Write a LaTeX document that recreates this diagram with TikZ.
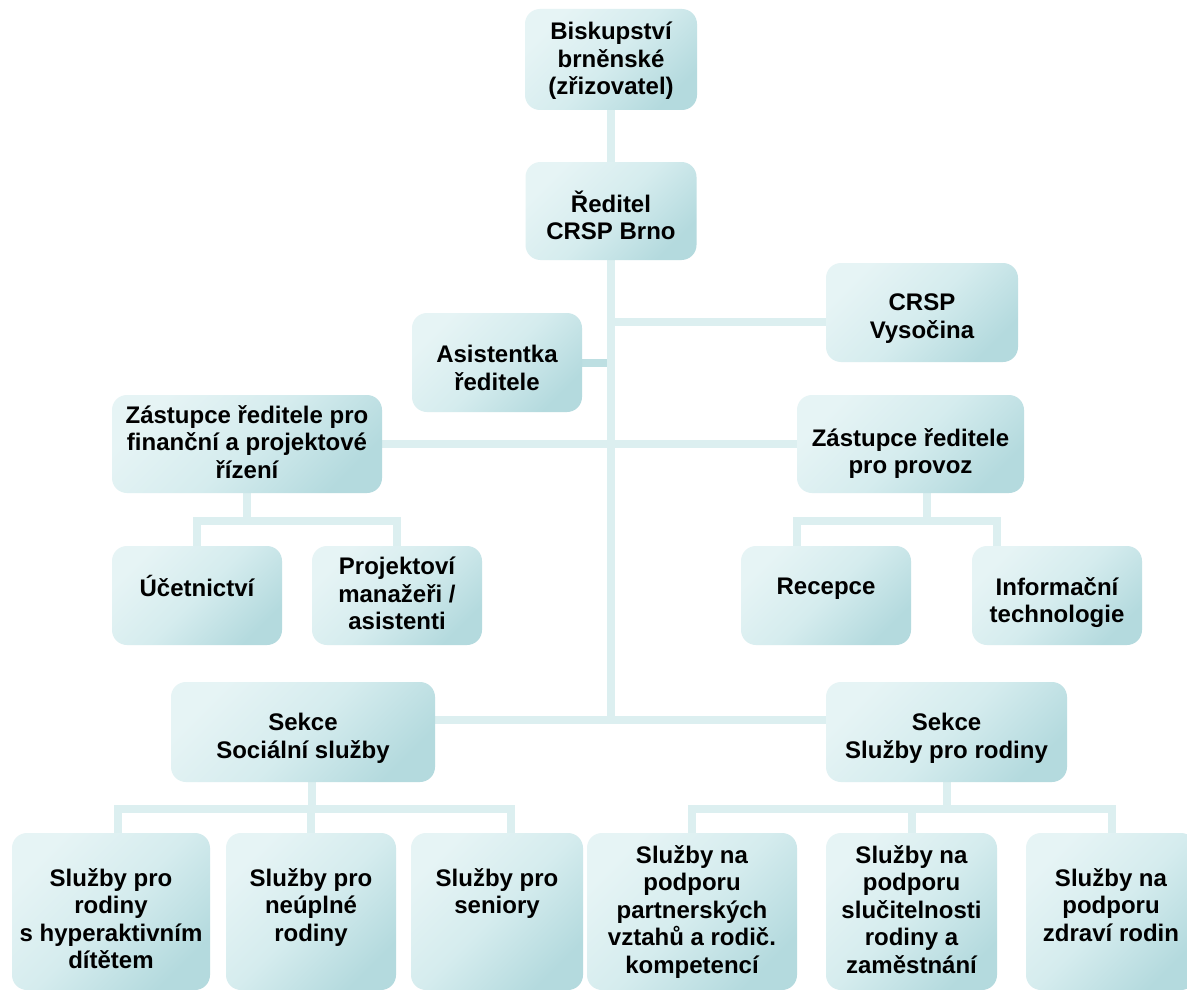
\documentclass[tikz,border=0pt]{standalone}
\usepackage{fontspec}
\setmainfont{Liberation Sans}
\usetikzlibrary{backgrounds}
\definecolor{boxA}{HTML}{E6F4F5}
\definecolor{boxB}{HTML}{D5ECEE}
\definecolor{boxC}{HTML}{B4DADE}
\definecolor{lineC}{HTML}{DCEFF0}
\definecolor{stubC}{HTML}{BDDFE2}
\tikzset{
  box/.style={rectangle, rounded corners=15pt, inner sep=0pt, draw=none,
    top color=boxA, bottom color=boxC, middle color=boxB, shading angle=45},
  txt/.style={inner sep=0pt, align=center, anchor=north, text=black,
    font=\bfseries\fontsize{24}{27.5}\selectfont},
  conn/.style={draw=lineC, line width=8pt, line join=miter},
  stub/.style={draw=stubC, line width=8pt}
}
\begin{document}
\begin{tikzpicture}[x=1pt,y=-1pt]
\useasboundingbox (0,0) rectangle (1187,990);
% boxes
\node[box, minimum width=172, minimum height=101] (b1) at (611,59.5) {};
\node[box, minimum width=171, minimum height=98]  (b2) at (611,211) {};
\node[box, minimum width=192, minimum height=99]  (b3) at (922,312.5) {};
\node[box, minimum width=170, minimum height=99]  (b4) at (497,362.5) {};
\node[box, minimum width=270, minimum height=98]  (b5) at (247,444) {};
\node[box, minimum width=227, minimum height=98]  (b6) at (910.5,444) {};
\node[box, minimum width=170, minimum height=99]  (b7) at (197,595.5) {};
\node[box, minimum width=170, minimum height=99]  (b8) at (397,595.5) {};
\node[box, minimum width=170, minimum height=99]  (b9) at (826,595.5) {};
\node[box, minimum width=170, minimum height=99]  (b10) at (1057,595.5) {};
\node[box, minimum width=264, minimum height=100] (b11) at (303,732) {};
\node[box, minimum width=241, minimum height=100] (b12) at (946.5,732) {};
\node[box, minimum width=198, minimum height=157] (c1) at (111,911.5) {};
\node[box, minimum width=170, minimum height=157] (c2) at (311,911.5) {};
\node[box, minimum width=172, minimum height=157] (c3) at (497,911.5) {};
\node[box, minimum width=210, minimum height=157] (c4) at (692,911.5) {};
\node[box, minimum width=171, minimum height=157] (c5) at (911.5,911.5) {};
\node[box, minimum width=170, minimum height=157] (c6) at (1111,911.5) {};
% texts
\node[txt] (t1) at (611,22) {Biskupství\\brněnské\\(zřizovatel)};
\node[txt] (t2) at (611,190.5) {Ředitel\\CRSP Brno};
\node[txt] (t3) at (922,294) {CRSP\\Vysočina};
\node[txt] (t4) at (497,345) {Asistentka\\ředitele};
\node[txt] (t5) at (247,405) {Zástupce ředitele pro\\finanční a projektové\\řízení};
\node[txt] (t6) at (910.5,428) {Zástupce ředitele\\pro provoz};
\node[txt] (t7) at (197,575.5) {Účetnictví};
\node[txt] (t8) at (397,557) {Projektoví\\manažeři /\\asistenti};
\node[txt] (t9) at (826,578) {Recepce};
\node[txt] (t10) at (1057,577) {Informační\\technologie};
\node[txt] (t11) at (303,713) {Sekce\\Sociální služby};
\node[txt] (t12) at (946.5,713) {Sekce\\Služby pro rodiny};
\node[txt] (u1) at (111,868) {Služby pro\\rodiny\\s hyperaktivním\\dítětem};
\node[txt] (u2) at (311,868) {Služby pro\\neúplné\\rodiny};
\node[txt] (u3) at (497,868) {Služby pro\\seniory};
\node[txt] (u4) at (692,845) {Služby na\\podporu\\partnerských\\vztahů a rodič.\\kompetencí};
\node[txt] (u5) at (911.5,845) {Služby na\\podporu\\slučitelnosti\\rodiny a\\zaměstnání};
\node[txt] (u6) at (1111,868) {Služby na\\podporu\\zdraví rodin};
% junction coordinates
\coordinate (tk) at (611,720);
\coordinate (j1) at (611,322);
\coordinate (j2) at (607,362.5);
\coordinate (h1) at (247,521);
\coordinate (h2) at (927,521);
\coordinate (d9) at (797,521);
\coordinate (d10) at (997,521);
\coordinate (h3) at (312,809);
\coordinate (e1) at (118,809);
\coordinate (e3) at (511,809);
\coordinate (h4) at (947,809);
\coordinate (e4) at (692,809);
\coordinate (e6) at (1112,809);
\begin{pgfonlayer}{background}
\fill[white] (0,0) rectangle (1187,990);
\draw[conn] (b1.south) -- (b2.north);
\draw[conn] (b2.south) -- (tk);
\draw[conn] (j1) -- (j1 -| b3.west);
\draw[stub] (b4.east) -- (j2);
\draw[conn] (b5.east) -- (b6.west);
\draw[conn] (tk -| b11.east) -- (tk -| b12.west);
\draw[conn] (b5.south) -- (h1);
\draw[conn] (b7.north) |- (b8.north |- h1) -- (b8.north);
\draw[conn] (b6.south -| h2) -- (h2);
\draw[conn] (d9 |- b9.north) -- (d9) -- (d10) -- (d10 |- b10.north);
\draw[conn] (b11.south -| h3) -- (h3);
\draw[conn] (e1 |- c1.north) -- (e1) -- (e3) -- (e3 |- c3.north);
\draw[conn] (c2.north) -- (c2.north |- e1);
\draw[conn] (b12.south -| h4) -- (h4);
\draw[conn] (e4 |- c4.north) -- (e4) -- (e6) -- (e6 |- c6.north);
\draw[conn] (c5.north) -- (c5.north |- e4);
\end{pgfonlayer}
\end{tikzpicture}
\end{document}
